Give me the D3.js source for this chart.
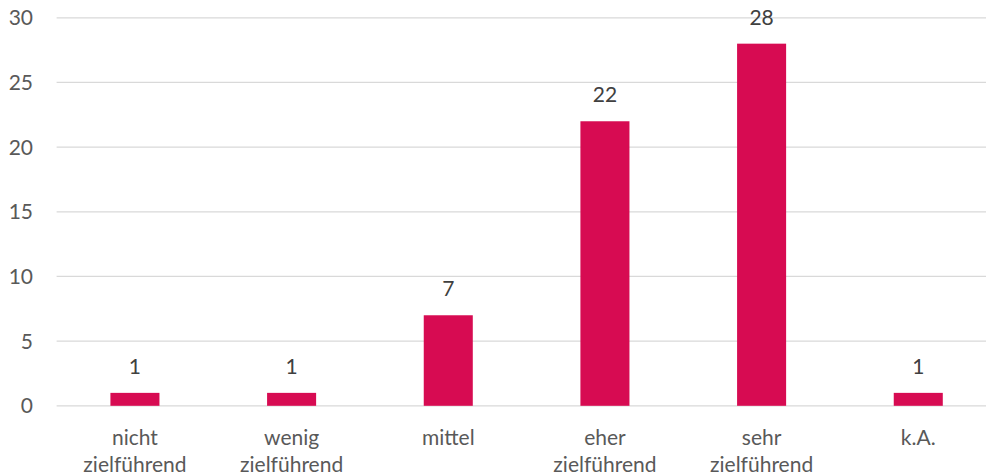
<!DOCTYPE html>
<html><head><meta charset="utf-8">
<script src="https://cdn.jsdelivr.net/npm/d3@7"></script>
<style>body{margin:0;background:#fff}svg{display:block}</style>
</head><body>
<svg id="c" width="986" height="476"></svg>
<script>
const categories = [["nicht","zielführend"],["wenig","zielführend"],["mittel"],["eher","zielführend"],["sehr","zielführend"],["k.A."]];
const values = [1, 1, 7, 22, 28, 1];
const yTicks = [0, 5, 10, 15, 20, 25, 30];

const svg = d3.select("#c");
const font = "Lato, 'Liberation Sans', sans-serif";
const fs = 21;
const x = d3.scaleBand().domain(d3.range(categories.length)).range([56.6, 996.6]).paddingInner(0.687).paddingOuter(0.3435);
const y = d3.scaleLinear().domain([0, 30]).range([405.8, 17.8]);

svg.append("g").selectAll("line").data(yTicks).join("line")
  .attr("x1", 56.6).attr("x2", 996).attr("y1", d => y(d)).attr("y2", d => y(d))
  .attr("stroke", "#d9d9d9").attr("stroke-width", 1.3);

svg.append("g").selectAll("text").data(yTicks).join("text")
  .attr("x", 33).attr("y", d => y(d)).attr("dy", "0.36em").attr("text-anchor", "end")
  .attr("font-family", font).attr("font-size", fs).attr("fill", "#595959").text(d => d);

svg.append("g").selectAll("rect").data(values).join("rect")
  .attr("x", (d, i) => x(i)).attr("width", x.bandwidth())
  .attr("y", d => y(d)).attr("height", d => y(0) - y(d)).attr("fill", "#d70b52");

svg.append("g").selectAll("text").data(values).join("text")
  .attr("x", (d, i) => x(i) + x.bandwidth() / 2).attr("y", d => y(d) - 19)
  .attr("text-anchor", "middle").attr("font-family", font).attr("font-size", fs)
  .attr("fill", "#404040").text(d => d);

const cl = svg.append("g").selectAll("text").data(categories).join("text")
  .attr("x", (d, i) => x(i) + x.bandwidth() / 2).attr("y", 445)
  .attr("text-anchor", "middle").attr("font-family", font).attr("font-size", fs).attr("fill", "#595959");
cl.selectAll("tspan").data(d => d).join("tspan")
  .attr("x", function(){ return this.parentNode.getAttribute("x"); })
  .attr("dy", (d, i) => i === 0 ? 0 : 26.5).text(d => d);
</script>
</body></html>
